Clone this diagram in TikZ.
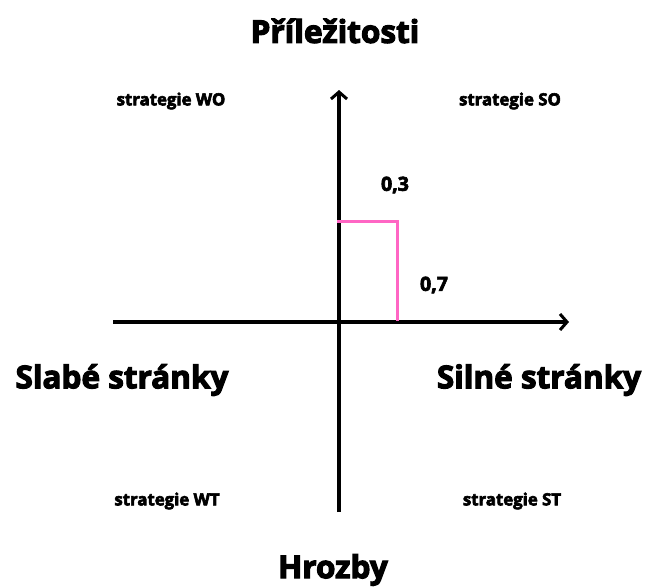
\documentclass[tikz,border=0pt]{standalone}
\usepackage{fontspec}
\setmainfont{Open Sans}[BoldFeatures={FakeBold=3.5}]
\usetikzlibrary{arrows.meta}
\definecolor{axispink}{HTML}{FF66C4}
\begin{document}
\begin{tikzpicture}[x=1pt,y=-1pt,
  axis/.style={line width=3.6pt,-{Straight Barb[length=7pt,width=16pt,line width=3pt]}},
  bigtxt/.style={font=\fontsize{31.5}{34}\selectfont\bfseries,inner sep=0pt},
  midtxt/.style={font=\fontsize{19.5}{22}\selectfont\bfseries,inner sep=0pt},
  smalltxt/.style={font=\fontsize{16.8}{19}\selectfont\bfseries,inner sep=0pt}]
  \useasboundingbox (0,0) rectangle (645,587);
  % axes
  \coordinate (vb) at (339,512);
  \coordinate (vt) at (339,90);
  \coordinate (hl) at (113,322);
  \coordinate (hr) at (569,322);
  \draw[axis] (vb) -- (vt);
  \draw[axis] (hl) -- (hr);
  % marked point
  \coordinate (py) at (337,221);
  \coordinate (pc) at (397,221);
  \coordinate (px) at (397,321);
  \draw[axispink,line width=3pt] (py) -- (pc) -- (px);
  % labels
  \node[bigtxt] (top) at (335,31) {Příležitosti};
  \node[bigtxt] (bot) at (333,570) {Hrozby};
  \node[bigtxt] (left) at (122,380) {Slabé stránky};
  \node[bigtxt] (right) at (539,380) {Silné stránky};
  \node[smalltxt] (wo) at (171,101) {strategie WO};
  \node[smalltxt] (so) at (510,101) {strategie SO};
  \node[smalltxt] (wt) at (167,501) {strategie WT};
  \node[smalltxt] (st) at (512,501) {strategie ST};
  \node[midtxt] (v3) at (395,185) {0,3};
  \node[midtxt] (v7) at (434,285) {0,7};
\end{tikzpicture}
\end{document}
